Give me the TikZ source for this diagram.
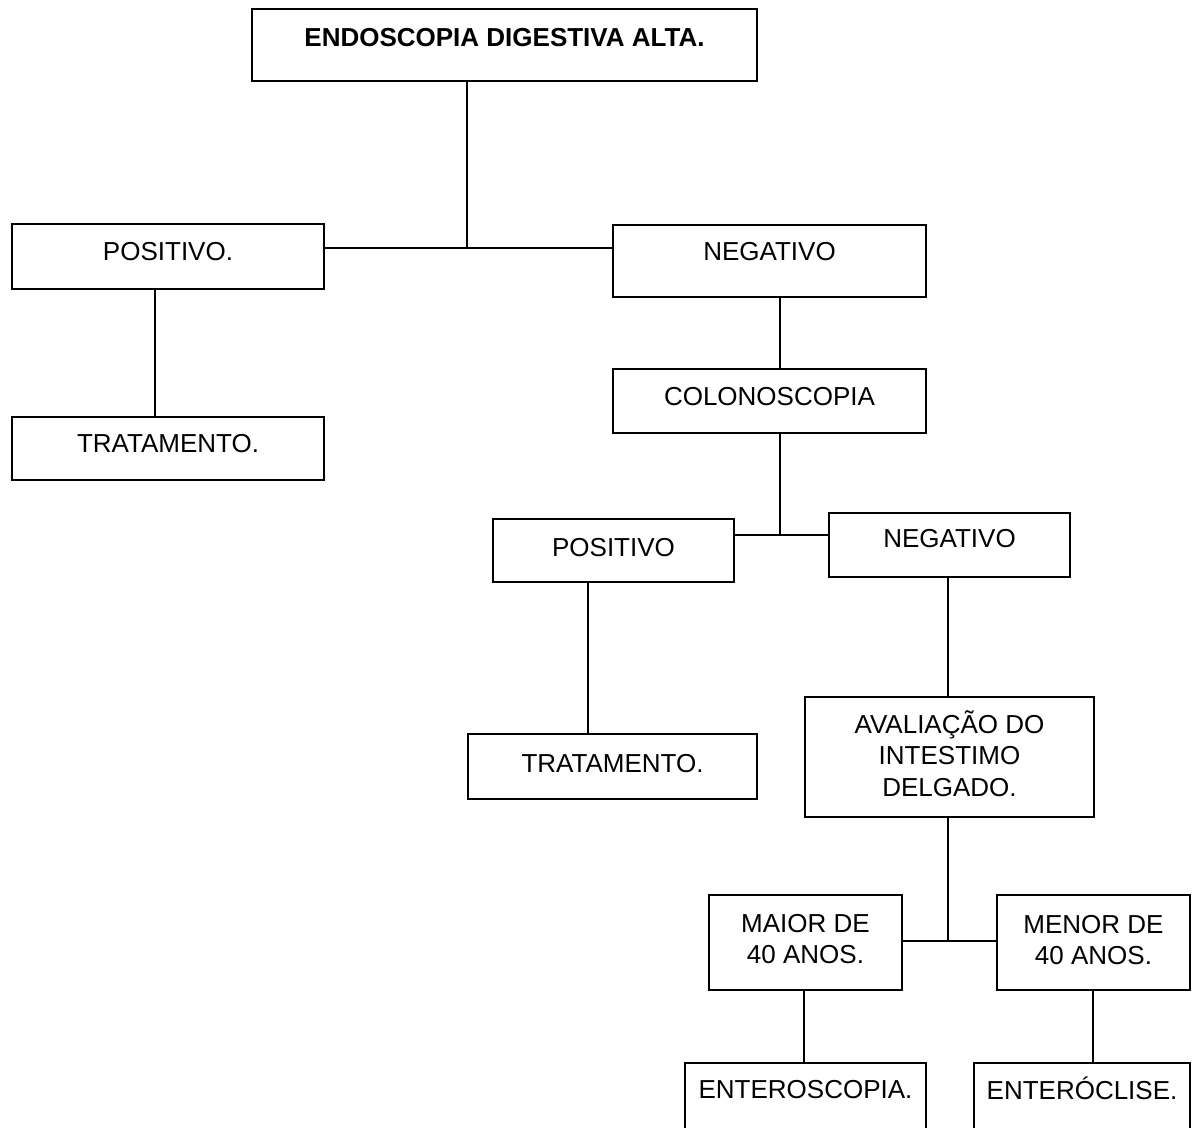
\documentclass[tikz,border=0pt]{standalone}
\usepackage{fontspec}
\setmainfont{Liberation Sans}
\begin{document}
\begin{tikzpicture}[x=1pt,y=-1pt,
  box/.style={draw=black, line width=2pt, rectangle, inner sep=0pt,
    anchor=north west, font=\fontsize{26}{31.5}\selectfont},
  geom/.style n args={4}{minimum width=#1pt, minimum height=#2pt,
    text height=#3pt, text depth=#4pt},
  link/.style={draw=black, line width=2pt}]
\clip (0,0) rectangle (1199,1127);
\fill[white] (0,0) rectangle (1199,1127);

% boxes
\node[box, geom={505}{72}{37.3}{34.7}, font=\fontsize{26}{31.5}\selectfont\bfseries]
  (top) at (251,8) {ENDOSCOPIA DIGESTIVA ALTA.};
\node[box, geom={312}{65}{36.8}{28.2}] (pos1) at (11,223) {POSITIVO.};
\node[box, geom={312}{63}{35.8}{27.2}] (tra1) at (11,416) {TRATAMENTO.};
\node[box, geom={313}{72}{35.3}{36.7}] (neg1) at (612,224) {NEGATIVO};
\node[box, geom={313}{64}{36.3}{27.7}] (colo) at (612,368) {COLONOSCOPIA};
\node[box, geom={241}{63}{37.3}{25.7}] (pos2) at (492,518) {POSITIVO};
\node[box, geom={241}{64}{34.3}{29.7}] (neg2) at (828,512) {NEGATIVO};
\node[box, geom={289}{65}{38.3}{26.7}] (tra2) at (467,733) {TRATAMENTO.};
\node[box, geom={289}{120}{36.3}{83.7}] (aval) at (804,696)
  {\begin{tabular}[t]{@{}c@{}}AVALIAÇÃO DO\\INTESTIMO\\DELGADO.\end{tabular}};
\node[box, geom={193}{95}{37.3}{57.7}] (maior) at (708,894)
  {\begin{tabular}[t]{@{}c@{}}MAIOR DE\\40 ANOS.\end{tabular}};
\node[box, geom={193}{95}{38.3}{56.7}] (menor) at (996,894)
  {\begin{tabular}[t]{@{}c@{}}MENOR DE\\40 ANOS.\end{tabular}};
\node[box, geom={241}{100}{35.3}{64.7}] (entero) at (684,1062) {ENTEROSCOPIA.};
\node[box, geom={216}{100}{36.3}{63.7}] (entcl) at (973,1062) {ENTERÓCLISE.};

% junctions and line positions
\coordinate (j1) at (467,248);
\coordinate (c1) at (155,0);
\coordinate (j3) at (780,535);
\coordinate (c4) at (588,0);
\coordinate (j6) at (948,941);
\coordinate (c7) at (804,0);
\coordinate (c8) at (1093,0);

% connectors
\draw[link] (top.south -| j1) -- (j1);
\draw[link] (pos1.east |- j1) -- (neg1.west |- j1);
\draw[link] (pos1.south -| c1) -- (tra1.north -| c1);
\draw[link] (neg1.south -| j3) -- (colo.north -| j3);
\draw[link] (colo.south -| j3) -- (j3);
\draw[link] (pos2.east |- j3) -- (neg2.west |- j3);
\draw[link] (pos2.south -| c4) -- (tra2.north -| c4);
\draw[link] (neg2.south -| j6) -- (aval.north -| j6);
\draw[link] (aval.south -| j6) -- (j6);
\draw[link] (maior.east |- j6) -- (menor.west |- j6);
\draw[link] (maior.south -| c7) -- (entero.north -| c7);
\draw[link] (menor.south -| c8) -- (entcl.north -| c8);
\end{tikzpicture}
\end{document}
